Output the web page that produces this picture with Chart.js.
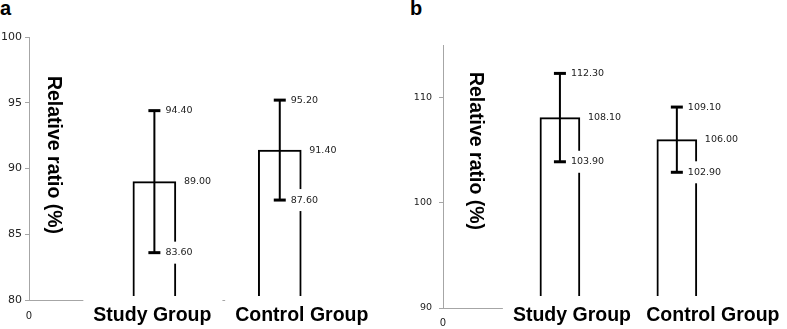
<!DOCTYPE html>
<html>
<head>
<meta charset="utf-8">
<script src="https://cdn.jsdelivr.net/npm/chart.js@4/dist/chart.umd.min.js"></script>
<style>
  html, body { margin: 0; padding: 0; background: #fff; }
  body { width: 787px; height: 329px; position: relative; overflow: hidden; }
  .panel { position: absolute; top: 0; }
  .tag { position: absolute; font: bold 20px "Liberation Sans", Arial, sans-serif; line-height: 20px; color: #000; }
</style>
</head>
<body>
<div class="tag" style="left:0px; top:-2px;">a</div>
<div class="tag" style="left:410px; top:-2px;">b</div>
<div class="panel" style="left:0px; width:390px; height:329px;"><canvas id="chartA" width="390" height="329"></canvas></div>
<div class="panel" style="left:390px; width:397px; height:329px;"><canvas id="chartB" width="397" height="329"></canvas></div>
<script>
// ---- data ----
const categories = ['0', 'Study Group', 'Control Group'];
const groups = ['Study Group', 'Control Group'];
const yTitle = 'Relative ratio (%)';

const meanA  = [89.00, 91.40];
const upperA = [94.40, 95.20];
const lowerA = [83.60, 87.60];
const ticksA = [80, 85, 90, 95, 100];

const meanB  = [108.10, 106.00];
const upperB = [112.30, 109.10];
const lowerB = [103.90, 102.90];
const ticksB = [90, 100, 110];

Chart.defaults.font.family = '"DejaVu Sans", sans-serif';
Chart.defaults.color = '#222';

const AXIS_GREY = '#a6a6a6';

function fmt(v) { return v.toFixed(2); }

function makePanel(canvasId, p) {
  const overlay = {
    id: 'overlay_' + canvasId,
    afterDatasetsDraw(chart) {
      const ctx = chart.ctx;
      const xs = chart.scales.x, ys = chart.scales.y;
      ctx.save();
      // error bars
      ctx.strokeStyle = '#000';
      p.mean.forEach((m, i) => {
        const x = xs.getPixelForValue(i + 1) + p.errShift;
        const yU = ys.getPixelForValue(p.upper[i]);
        const yL = ys.getPixelForValue(p.lower[i]);
        ctx.lineWidth = 2;
        ctx.beginPath(); ctx.moveTo(x, yU); ctx.lineTo(x, yL); ctx.stroke();
        ctx.lineWidth = 3;
        ctx.beginPath(); ctx.moveTo(x - 6, yU); ctx.lineTo(x + 6, yU); ctx.stroke();
        ctx.beginPath(); ctx.moveTo(x - 6, yL); ctx.lineTo(x + 6, yL); ctx.stroke();
      });
      // value labels with white boxes
      ctx.font = '9.5px "DejaVu Sans", sans-serif';
      ctx.textBaseline = 'middle';
      ctx.textAlign = 'left';
      const lab = (txt, x, y) => {
        const w = ctx.measureText(txt).width;
        ctx.fillStyle = '#fff';
        ctx.fillRect(x - 4, y - 11, w + 8, 22);
        ctx.fillStyle = '#222';
        ctx.fillText(txt, x, y);
      };
      p.mean.forEach((m, i) => {
        const xc = xs.getPixelForValue(i + 1);
        const xe = xc + p.errShift;
        lab(fmt(p.upper[i]), xe + 11, ys.getPixelForValue(p.upper[i]));
        lab(fmt(p.lower[i]), xe + 11, ys.getPixelForValue(p.lower[i]));
        lab(fmt(m), xc + p.thick / 2 + 8, ys.getPixelForValue(m));
      });
      ctx.restore();
    },
    afterDraw(chart) {
      const ctx = chart.ctx;
      const xs = chart.scales.x;
      const area = chart.chartArea;
      ctx.save();
      // category labels with white boxes
      ctx.font = 'bold 19.5px "Liberation Sans", Arial, sans-serif';
      ctx.textBaseline = 'alphabetic';
      ctx.textAlign = 'center';
      groups.forEach((g, i) => {
        const cx = xs.getPixelForValue(i + 1) + p.labelShift[i];
        const w = ctx.measureText(g).width;
        ctx.fillStyle = '#fff';
        ctx.fillRect(cx - w / 2 - 10, 296, w + 21, 40);
        ctx.fillStyle = '#000';
        ctx.fillText(g, cx, 321);
      });
      // "0" category label under the axis
      ctx.font = '10px "DejaVu Sans", sans-serif';
      ctx.fillStyle = '#222';
      ctx.textBaseline = 'middle';
      ctx.fillText(categories[0], xs.getPixelForValue(0), p.zeroY);
      // rotated axis title (reads top to bottom)
      ctx.translate(p.titleX, p.titleY);
      ctx.rotate(Math.PI / 2);
      ctx.font = 'bold 19.5px "Liberation Sans", Arial, sans-serif';
      ctx.fillStyle = '#000';
      ctx.textAlign = 'center';
      ctx.textBaseline = 'middle';
      ctx.fillText(yTitle, 0, 0);
      ctx.restore();
    }
  };

  return new Chart(document.getElementById(canvasId), {
    type: 'bar',
    data: {
      datasets: [{
        data: p.mean.map((m, i) => ({ x: i + 1, y: m })),
        backgroundColor: '#fff',
        borderColor: '#000',
        borderWidth: 2,
        borderSkipped: 'start',
        barThickness: p.thick
      }]
    },
    options: {
      responsive: false,
      animation: false,
      events: [],
      layout: { padding: p.padding },
      plugins: { legend: { display: false }, tooltip: { enabled: false }, title: { display: false } },
      scales: {
        x: {
          type: 'linear',
          min: 0,
          max: 2.6,
          offset: false,
          ticks: { display: false },
          grid: { display: true, drawOnChartArea: false, drawTicks: false, color: AXIS_GREY },
          border: { display: true, color: AXIS_GREY, width: 1 }
        },
        y: {
          type: 'linear',
          min: p.ticks[0],
          max: p.yMax,
          afterBuildTicks(scale) { scale.ticks = p.ticks.map(v => ({ value: v })); },
          afterFit(scale) { scale.width = p.axisWidth; },
          ticks: { font: { size: p.tickFont }, color: '#222', padding: p.tickPad, callback: v => String(v) },
          grid: { display: true, drawOnChartArea: false, drawTicks: true, tickLength: 4, color: AXIS_GREY },
          border: { display: true, color: AXIS_GREY, width: 1 }
        }
      }
    },
    plugins: [overlay]
  });
}

makePanel('chartA', {
  mean: meanA, upper: upperA, lower: lowerA, ticks: ticksA, yMax: 100,
  thick: 43, errShift: 0,
  padding: { top: 37, bottom: 29, left: 0, right: 35 },
  axisWidth: 29, tickFont: 11, tickPad: 3,
  labelShift: [-2, 22],
  zeroY: 316, titleX: 53, titleY: 155
});

makePanel('chartB', {
  mean: meanB, upper: upperB, lower: lowerB, ticks: ticksB, yMax: 115,
  thick: 40, errShift: 0,
  padding: { top: 45, bottom: 21, left: 0, right: 40 },
  axisWidth: 53, tickFont: 9.5, tickPad: 7,
  labelShift: [12, 36],
  zeroY: 323, titleX: 85, titleY: 151
});
</script>
</body>
</html>
